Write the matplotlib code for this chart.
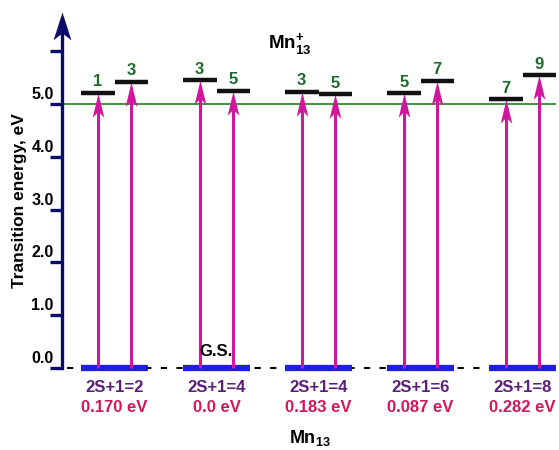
import matplotlib
matplotlib.use('Agg')
import matplotlib.pyplot as plt
from matplotlib.path import Path
from matplotlib.transforms import ScaledTranslation

plt.rcParams['font.family'] = ['Liberation Sans', 'DejaVu Sans']
plt.rcParams['mathtext.fontset'] = 'custom'
plt.rcParams['mathtext.rm'] = 'Liberation Sans'
plt.rcParams['mathtext.bf'] = 'Liberation Sans:bold'

# ---------------- data ----------------
multiplicity_labels = ['2S+1=2', '2S+1=4', '2S+1=4', '2S+1=6', '2S+1=8']
relative_energies = ['0.170 eV', '0.0 eV', '0.183 eV', '0.087 eV', '0.282 eV']
ion_multiplicities = [[1, 3], [3, 5], [3, 5], [5, 7], [7, 9]]
transition_energies = [[5.21, 5.42], [5.45, 5.25], [5.23, 5.18], [5.20, 5.44], [5.09, 5.54]]
reference_energy = 5.0
ground_state_index = 1
ytick_values = [0, 1, 2, 3, 4, 5, 6]
ytick_labels = ['0.0', '1.0', '2.0', '3.0', '4.0', '5.0', '']

# ---------------- style ----------------
NAVY = '#0b0b6b'
BLUE = '#1e1ee0'
MAGENTA = '#d0179b'
GREEN_TXT = '#1b6b2b'
GREEN_LINE = '#2e8b2e'
PURPLE = '#5b1f7a'
CRIMSON = '#d2165a'


def stealth(w):
    return Path([(0, 0), (-w, -1), (0, -0.75), (w, -1), (0, 0)],
                [Path.MOVETO, Path.LINETO, Path.LINETO, Path.LINETO, Path.CLOSEPOLY])


W, H, DPI = 559, 450, 100
fig = plt.figure(figsize=(W / DPI, H / DPI), dpi=DPI)
ax = fig.add_axes([0, 0, 1, 1])
ax.patch.set_alpha(0)

x0, dx = 114.5, 102.0        # pixel mapping for group index
y0, dy = 368.0, 52.8         # pixel mapping for energy
ax.set_xlim(-x0 / dx, (W - x0) / dx)
ax.set_ylim(-(H - y0) / dy, y0 / dy)
spine_x = (62 - x0) / dx
right_x = (556 - x0) / dx

for s in ['top', 'right', 'bottom']:
    ax.spines[s].set_visible(False)
ax.spines['left'].set_position(('data', spine_x))
ax.spines['left'].set_bounds(0, 6.4)
ax.spines['left'].set_color(NAVY)
ax.spines['left'].set_linewidth(2.4)
ax.set_xticks([])
ax.set_yticks(ytick_values, ytick_labels)
ax.tick_params(axis='y', direction='out', length=8.5, width=2.4, color=NAVY,
               pad=-2.5, labelsize=11.5)
offset = ScaledTranslation(0, 11 / DPI, fig.dpi_scale_trans)
for lbl in ax.get_yticklabels():
    lbl.set_fontweight('bold')
    lbl.set_transform(lbl.get_transform() + offset)

# axis arrow head
ax.plot([spine_x], [(y0 - 12) / dy], marker=stealth(0.32), markersize=40,
        color=NAVY, markeredgewidth=0, clip_on=False, zorder=5)

# reference line and dashed ground line
ax.hlines(reference_energy, spine_x, right_x, color=GREEN_LINE, lw=1.3, zorder=2)
ax.hlines(0, spine_x + 0.05, right_x, color='black', lw=1.5,
          linestyles=(0, (3, 4.5)), zorder=1)

half = 0.165
head = stealth(0.24)
for i, (mults, energies) in enumerate(zip(ion_multiplicities, transition_energies)):
    ax.hlines(0, i - 0.33, i + 0.33, color=BLUE, lw=4.5, zorder=3)
    for k, (m, e) in enumerate(zip(mults, energies)):
        xc = i + (-half if k == 0 else half)
        ax.hlines(e, xc - half, xc + half, color='#111111', lw=3.2, zorder=4)
        ax.vlines(xc, 0, e - 0.3, color=MAGENTA, lw=2.2, zorder=3)
        ax.plot([xc], [e], marker=head, markersize=35, color=MAGENTA,
                markeredgewidth=0, zorder=3.5)
        ax.annotate(str(m), xy=(xc, e), xytext=(0, 2.5), textcoords='offset points',
                    ha='center', va='bottom', color=GREEN_TXT, fontsize=12,
                    fontweight='bold')
    ax.text(i, -20 / dy, multiplicity_labels[i], ha='center', va='center',
            color=PURPLE, fontsize=12, fontweight='bold')
    ax.text(i, -40 / dy, relative_energies[i], ha='center', va='center',
            color=CRIMSON, fontsize=12, fontweight='bold')

ax.text(ground_state_index, 16 / dy, 'G.S.', ha='center', va='center',
        fontsize=12, fontweight='bold')
ax.text((290 - x0) / dx, (y0 - 45) / dy, r'$\mathbf{Mn}_{\mathbf{13}}^{\mathbf{+}}$',
        ha='center', va='center', fontsize=13.5)
ax.text((310 - x0) / dx, (y0 - 438) / dy, r'$\mathbf{Mn}_{\mathbf{13}}$',
        ha='center', va='center', fontsize=13)
fig.text(20 / W, 1 - 201 / H, 'Transition energy, eV', rotation=90,
         ha='center', va='center', fontsize=12.5, fontweight='bold')

fig.savefig('out.png', dpi=DPI)
